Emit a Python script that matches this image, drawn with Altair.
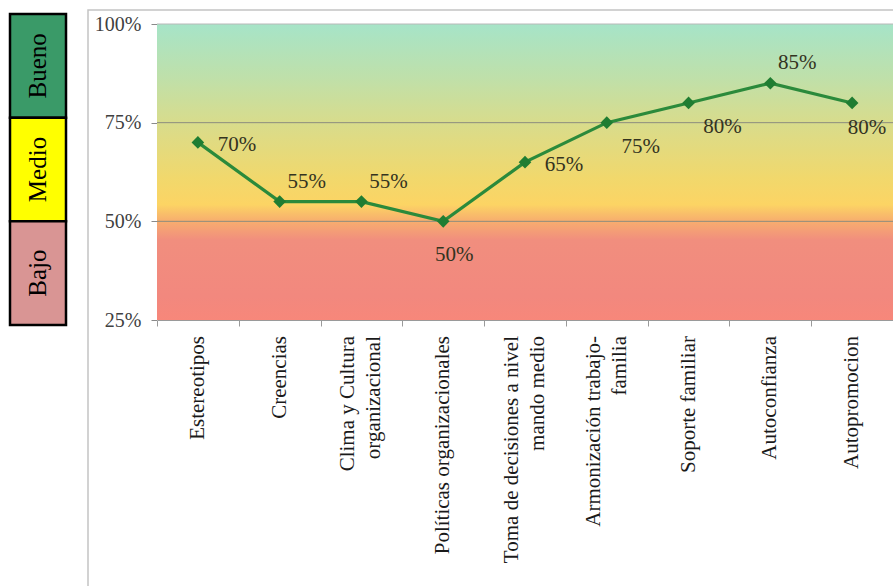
import altair as alt
import pandas as pd

SERIF = "Liberation Serif"

# Dimensions evaluated, in order along the x axis ("\n" marks a label line break)
categories = [
    "Estereotipos",
    "Creencias",
    "Clima y Cultura\norganizacional",
    "Políticas organizacionales",
    "Toma de decisiones a nivel\nmando medio",
    "Armonización trabajo-\nfamilia",
    "Soporte familiar",
    "Autoconfianza",
    "Autopromocion",
]
# Score of each dimension (share of 100%)
values = [0.70, 0.55, 0.55, 0.50, 0.65, 0.75, 0.80, 0.85, 0.80]
# Where each value label sits around its marker
label_side = ["right", "above", "above", "under", "right", "below", "below", "above", "below_in"]

# Axis ticks
y_ticks = [0.25, 0.50, 0.75, 1.00]

# Rating bands shown on the left key
levels = ["Bueno", "Medio", "Bajo"]
level_colors = ["#3a9a68", "#ffff00", "#d99594"]

df = pd.DataFrame({"categoria": categories, "valor": values, "pos": label_side})
parts = [c.split("\n") for c in categories]
df["linea1"] = [p[0] for p in parts]
df["linea2"] = [p[1] if len(p) > 1 else "" for p in parts]
df["nlineas"] = [len(p) for p in parts]

bg_df = pd.DataFrame({"top": [y_ticks[-1]], "bottom": [y_ticks[0]]})
grid_df = pd.DataFrame({"v": y_ticks[1:]})
key_df = pd.DataFrame({"nivel": levels, "color": level_colors})

LINE_H = 26      # spacing between the two lines of a category label
LABEL_GAP = 16   # tick length + padding below the x axis

x_enc = alt.X(
    "categoria:N",
    sort=categories,
    scale=alt.Scale(paddingInner=0, paddingOuter=0),
    axis=alt.Axis(
        title=None,
        labels=False,
        tickBand="extent",
        tickSize=6,
        tickColor="#9a9a9a",
        domainColor="#9a9a9a",
        grid=False,
    ),
)
y_scale = alt.Scale(domain=[y_ticks[0], y_ticks[-1]], nice=False, zero=False)
y_enc = alt.Y(
    "valor:Q",
    scale=y_scale,
    axis=alt.Axis(
        values=y_ticks,
        format=".0%",
        title=None,
        grid=False,
        labelFont=SERIF,
        labelFontSize=20,
        labelColor="#404040",
        labelPadding=10,
        tickSize=6,
        tickColor="#8a8a8a",
        domainColor="#c8c8c8",
    ),
)

# Outer chart-area frame (outline only)
frame = alt.Chart(bg_df).mark_rect(fill="transparent", stroke="#c4c4c4", strokeWidth=1.5).encode(
    x=alt.value(-69), x2=alt.value(900), y=alt.value(-14), y2=alt.value(700)
)

# Traffic-light gradient behind the plot
gradient = {
    "gradient": "linear",
    "x1": 0, "y1": 0, "x2": 0, "y2": 1,
    "stops": [
        {"offset": 0.0, "color": "#a6e4c8"},
        {"offset": 0.18, "color": "#bfe0aa"},
        {"offset": 0.333, "color": "#d8dc8c"},
        {"offset": 0.52, "color": "#f1d86c"},
        {"offset": 0.61, "color": "#fcd464"},
        {"offset": 0.665, "color": "#f7ae6e"},
        {"offset": 0.73, "color": "#f18e7e"},
        {"offset": 0.92, "color": "#f2887e"},
        {"offset": 1.0, "color": "#f7877a"},
    ],
}
background = alt.Chart(bg_df).mark_rect(fill=gradient).encode(
    x=alt.value(0),
    x2=alt.value("width"),
    y=alt.Y("top:Q", scale=y_scale),
    y2="bottom:Q",
)

gridlines = alt.Chart(grid_df).mark_rule(strokeWidth=1).encode(
    y=alt.Y("v:Q", scale=y_scale),
    color=alt.condition("datum.v >= 1", alt.value("#b8b8b8"), alt.value("#8c8c7e")),
)

line = alt.Chart(df).mark_line(color="#2b8a3b", strokeWidth=3.2).encode(x=x_enc, y=y_enc)
points = alt.Chart(df).mark_point(
    shape="diamond", filled=True, size=160, color="#1f7d32", opacity=1
).encode(x=x_enc, y=y_enc)

offsets = {
    "right": (39, 3),
    "above": (27, -20),
    "below": (34, 24),
    "under": (11, 34),
    "below_in": (15, 25),
}
labels = [
    alt.Chart(df)
    .transform_filter(alt.datum.pos == side)
    .mark_text(dx=dx, dy=dy, font=SERIF, fontSize=21, color="#33331f", align="center", baseline="middle")
    .encode(x=x_enc, y=y_enc, text=alt.Text("valor:Q", format=".0%"))
    for side, (dx, dy) in offsets.items()
]


# Category names under the axis, rotated; two-line names are centred on their tick
def cat_text(filter_expr, field, shift):
    return (
        alt.Chart(df)
        .transform_filter(filter_expr)
        .mark_text(
            angle=270, align="right", baseline="middle", dx=-LABEL_GAP, dy=shift,
            font=SERIF, fontSize=21, color="#1a1a1a",
        )
        .encode(x=x_enc, y=alt.value("height"), text=f"{field}:N")
    )


cat_labels = [
    cat_text("datum.nlineas == 1", "linea1", 0),
    cat_text("datum.nlineas == 2", "linea1", -LINE_H / 2),
    cat_text("datum.nlineas == 2", "linea2", LINE_H / 2),
]

main = alt.layer(frame, background, gridlines, line, points, *labels, *cat_labels)

# Left key: Bueno / Medio / Bajo
key_y = alt.Y(
    "nivel:N",
    sort=levels,
    scale=alt.Scale(domain=levels, range=[-10, 301], paddingInner=0, paddingOuter=0),
    axis=None,
)
key_box = alt.Chart(key_df).mark_rect(stroke="black", strokeWidth=2.5).encode(
    x=alt.value(-147), x2=alt.value(-91), y=key_y, fill=alt.Fill("color:N", scale=None)
)
key_text = alt.Chart(key_df).mark_text(angle=270, font=SERIF, fontSize=25, color="black").encode(
    x=alt.value(-119), y=key_y, text="nivel:N"
)
key = alt.layer(key_box, key_text)

chart = (
    alt.layer(main, key)
    .resolve_scale(y="independent")
    .properties(
        width=736,
        height=296,
        autosize=alt.AutoSizeParams(type="none"),
        padding={"left": 157, "top": 24, "right": 0, "bottom": 266},
        background="white",
    )
    .configure_view(stroke=None)
)

chart.save("out.html", embed_options={"renderer": "svg", "actions": False})
